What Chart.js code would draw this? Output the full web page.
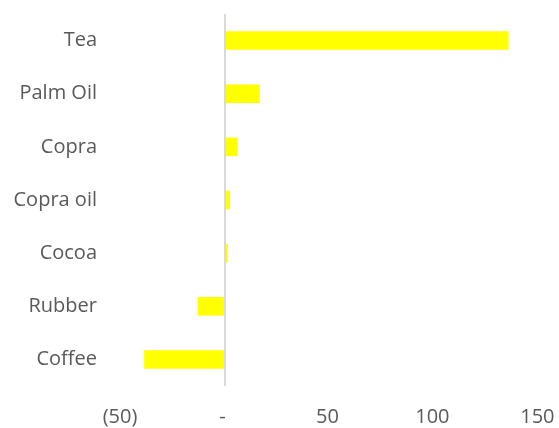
<!DOCTYPE html>
<html>
<head>
<meta charset="utf-8">
<script src="https://cdn.jsdelivr.net/npm/chart.js@4"></script>
<style>
  html, body { margin: 0; padding: 0; background: #fff; overflow: hidden; }
  canvas { display: block; }
</style>
</head>
<body>
<canvas id="chart" width="559" height="428"></canvas>
<script>
// Commodities and their values
const commodities = ["Tea", "Palm Oil", "Copra", "Copra oil", "Cocoa", "Rubber", "Coffee"];
const values = [135, 16.5, 6, 2.4, 1.3, -13, -38.5];
const xTicks = [-50, 0, 50, 100, 150];

// Accounting-style tick label: (50), -, 50
function fmt(v) {
    if (v < 0) return "(" + Math.abs(v) + ")";
    if (v === 0) return "- ";
    return v + " ";
}

const ctx = document.getElementById("chart").getContext("2d");
new Chart(ctx, {
    type: "bar",
    data: {
        labels: commodities,
        datasets: [{
            data: values,
            backgroundColor: "#ffff00",
            borderWidth: 0,
            categoryPercentage: 1,
            barPercentage: 0.35,
        }],
    },
    options: {
        indexAxis: "y",
        responsive: false,
        animation: false,
        layout: { padding: { top: 14, right: 19, bottom: 0, left: 0 } },
        plugins: { legend: { display: false }, tooltip: { enabled: false } },
        scales: {
            x: {
                min: -50,
                max: 150,
                afterBuildTicks: (scale) => {
                    scale.ticks = xTicks.map((v) => ({ value: v }));
                },
                afterFit: (scale) => {
                    scale.height = 42;
                    scale.paddingRight = 0;
                    scale.paddingLeft = 0;
                },
                border: { display: false },
                grid: {
                    drawTicks: false,
                    lineWidth: 2,
                    color: (c) => (c.tick && c.tick.value === 0 ? "#d9d9d9" : "rgba(0,0,0,0)"),
                },
                ticks: {
                    padding: 19,
                    maxRotation: 0,
                    color: "#595959",
                    font: { family: "Open Sans", size: 20 },
                    callback: (v) => fmt(v),
                },
            },
            y: {
                afterFit: (scale) => { scale.width = 120; scale.paddingTop = 0; scale.paddingBottom = 0; },
                border: { display: false },
                grid: { display: false, drawTicks: false },
                ticks: {
                    padding: 23,
                    color: "#595959",
                    font: { family: "Open Sans", size: 20 },
                },
            },
        },
    },
});
</script>
</body>
</html>
